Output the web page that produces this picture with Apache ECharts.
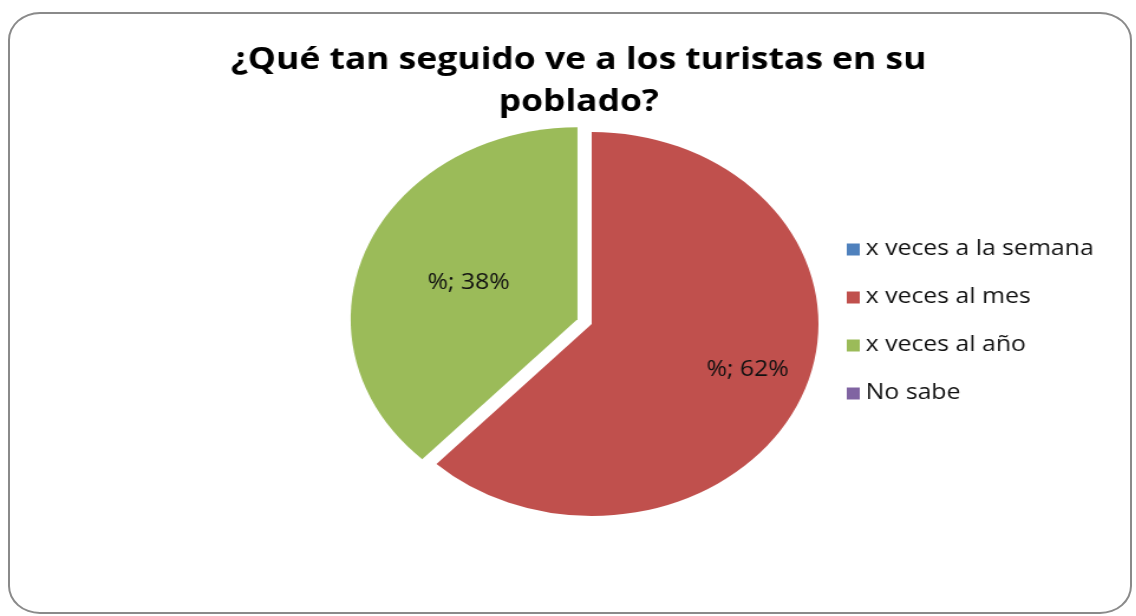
<!DOCTYPE html>
<html lang="es">
<head>
    <meta charset="UTF-8">
    <title>Turistas</title>
    <script src="https://cdn.jsdelivr.net/npm/echarts@6/dist/echarts.min.js"></script>
    <style>
        body { margin: 0; background: #fff; overflow: hidden; }
        #frame {
            position: absolute; left: 8px; top: 12px; width: 1120px; height: 598px;
            border: 2px solid #8a8a8a; border-radius: 32px / 28px;
        }
        #chart {
            position: absolute; left: 0; top: 0; width: 962px; height: 616px;
            transform: scaleX(1.181); transform-origin: 0 0;
        }
    </style>
</head>
<body>
<div id="frame"></div>
<div id="chart"></div>
<script type="text/javascript">
    var categories = ['x veces a la semana', 'x veces al mes', 'x veces al año', 'No sabe'];
    var values = [0, 62, 38, 0];
    var colors = ['#4F81BD', '#C0504D', '#9BBB59', '#8064A2'];
    var titleText = '¿Qué tan seguido ve a los turistas en su\npoblado?';

    var myChart = echarts.init(document.getElementById('chart'));

    var data = categories.map(function (name, i) {
        var item = {name: name, value: values[i], itemStyle: {color: colors[i]}};
        if (values[i] === 0) item.label = {show: false};
        if (i === 1) item.label = {offset: [40, 10]};
        if (i === 2) item.label = {offset: [-5, 2]};
        if (i === 2) item.selected = true;
        return item;
    });

    var option = {
        animation: false,
        title: {
            text: titleText,
            left: 485,
            textAlign: 'center',
            top: 34,
            textStyle: {
                fontFamily: 'Open Sans', fontWeight: 'bold', fontSize: 30,
                lineHeight: 42, color: '#000'
            }
        },
        legend: {
            orient: 'vertical',
            left: 712,
            top: 234,
            itemWidth: 11,
            itemHeight: 12,
            itemGap: 27,
            icon: 'rect',
            selectedMode: false,
            textStyle: {fontFamily: 'Open Sans', fontSize: 21, color: '#111'},
            data: categories
        },
        series: [{
            type: 'pie',
            center: [501, 324],
            radius: 192,
            startAngle: 90,
            clockwise: true,
            selectedMode: 'multiple',
            selectedOffset: 13,
            avoidLabelOverlap: false,
            label: {
                show: true,
                position: 'inside',
                formatter: '%; {d}%',
                fontFamily: 'Open Sans',
                fontSize: 21,
                color: '#111'
            },
            labelLine: {show: false},
            emphasis: {disabled: true},
            data: data
        }]
    };

    myChart.setOption(option);
</script>
</body>
</html>
